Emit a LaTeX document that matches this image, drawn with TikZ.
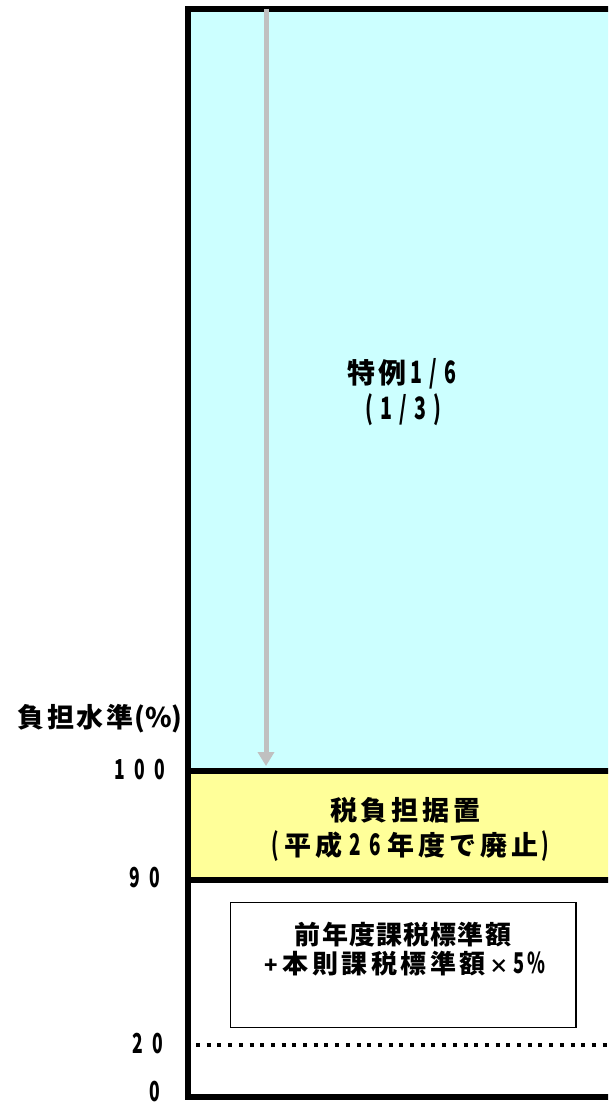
\documentclass[tikz,border=0pt]{standalone}
\usepackage{fontspec}
\setmainfont{Noto Sans CJK JP}
\usetikzlibrary{arrows.meta}
\definecolor{cyanfill}{HTML}{CCFFFF}
\definecolor{yellowfill}{HTML}{FFFF99}
\definecolor{arrowgray}{HTML}{C0C0C0}
% digit / half-width glyph in a fixed box, condensed
\newcommand\dg[2]{\makebox[#1pt][c]{\scalebox{0.7}[1.1]{#2}}}
% kanji string with fixed pitch
\newcommand\kk[2]{\def\kkw{#1}\kkloop#2\relax}
\def\kkloop#1{\ifx#1\relax\else\makebox[\kkw pt][c]{#1}\expandafter\kkloop\fi}
\begin{document}
\begin{tikzpicture}[x=1pt,y=-1pt,
  frameline/.style={line width=6pt,black},
  levelline/.style={line width=6pt,black},
  dotline/.style={line width=4pt,black,dash pattern=on 4pt off 6.7pt},
  grayarrow/.style={line width=5pt,arrowgray,-{Triangle[width=16pt,length=14pt]}},
  formbox/.style={draw=black,line width=1.4pt,fill=white,inner sep=0pt},
  btxt/.style={inner sep=0pt,font=\bfseries},
  ltxt/.style={inner sep=0pt,font=\bfseries\fontsize{25}{25}\selectfont}]
\useasboundingbox (0,0) rectangle (608,1105);
\begin{scope}
\clip (0,0) rectangle (608,1105);
\fill[white] (0,0) rectangle (608,1105);
\fill[cyanfill] (188,9) rectangle (620,770.5);
\fill[yellowfill] (188,770.5) rectangle (620,879.7);
\draw[frameline] (188,9) rectangle (620,1097);
\coordinate (l100L) at (188,770.5);
\coordinate (l100R) at (620,770.5);
\coordinate (l90L) at (188,879.7);
\coordinate (l90R) at (620,879.7);
\draw[levelline] (l100L) -- (l100R);
\draw[levelline] (l90L) -- (l90R);
\coordinate (dotL) at (196,1044.7);
\coordinate (dotR) at (614,1044.7);
\draw[dotline] (dotL) -- (dotR);
\coordinate (atop) at (266,9);
\coordinate (abot) at (266,766);
\draw[grayarrow] (atop) -- (abot);
\node[formbox,minimum width=345.4pt,minimum height=125pt] (fbox) at (403.2,965) {};
% cyan text
\node[btxt,anchor=base west,font=\bfseries\fontsize{28}{28}\selectfont] (cyanA) at (345.5,383.1)
  {\kk{31}{特例}\dg{17}{1}\dg{17}{/}\dg{17}{6}};
\node[btxt,anchor=base west,font=\bfseries\fontsize{28}{28}\selectfont] (cyanB) at (361.5,419.5)
  {\dg{16}{(}\dg{17}{1}\dg{17}{/}\dg{17}{3}\dg{18}{)}};
% yellow text
\node[btxt,anchor=base,font=\bfseries\fontsize{27}{27}\selectfont] (yelA) at (405.2,820.3)
  {\kk{30.75}{税負担据置}};
\node[btxt,anchor=base west,font=\bfseries\fontsize{27}{27}\selectfont] (yelB) at (268,855.3)
  {\dg{14}{(}\kk{31}{平成}\dg{22}{2}\dg{19}{6}\kk{31}{年度で廃止}\dg{10}{)}};
% formula box text
\node[btxt,anchor=base,font=\bfseries\fontsize{26}{26}\selectfont] (boxA) at (403,944.9)
  {\kk{27.2}{前年度課税標準額}};
\node[btxt,anchor=base west,font=\bfseries\fontsize{26}{26}\selectfont] (boxB) at (261,973.4)
  {\makebox[20pt][c]{\scalebox{0.85}{+}}\kk{29.5}{本則課税標準額}\makebox[24pt][c]{\scalebox{0.75}{×}}\dg{15}{5}\dg{20}{\%}};
% axis labels
\node[btxt,anchor=base east,font=\bfseries\fontsize{27}{27}\selectfont] (lblhead) at (183,727.8)
  {\kk{29.5}{負担水準}(\%)};
\node[ltxt,anchor=base] (n100) at (140,779.4) {\dg{20}{1}\dg{20}{0}\dg{20}{0}};
\node[ltxt,anchor=base] (n90) at (145,887.4) {\dg{20}{9}\dg{20}{0}};
\node[ltxt,anchor=base] (n20) at (148,1053.4) {\dg{20}{2}\dg{20}{0}};
\node[ltxt,anchor=base] (n0) at (155,1101.5) {\dg{20}{0}};
\end{scope}
\end{tikzpicture}
\end{document}
